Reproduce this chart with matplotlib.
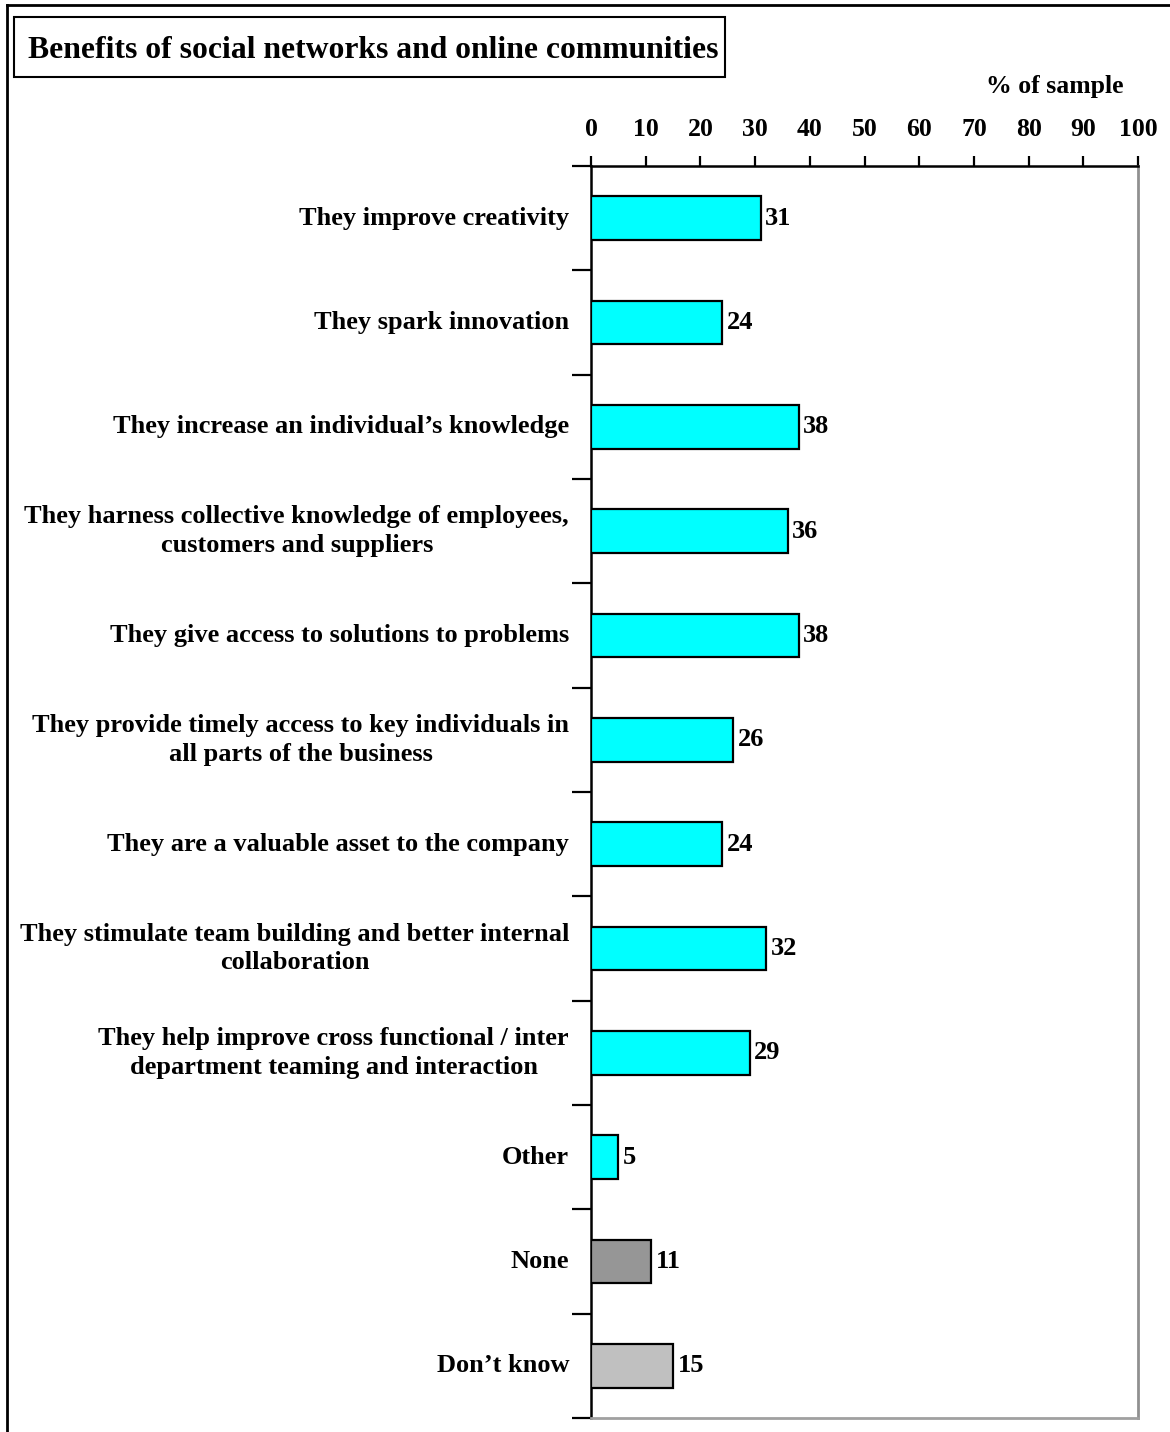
import matplotlib.pyplot as plt
from matplotlib.patches import Rectangle
from matplotlib.lines import Line2D

categories = [
    "They improve creativity",
    "They spark innovation",
    "They increase an individual\u2019s knowledge",
    "They harness collective knowledge of employees,\ncustomers and suppliers",
    "They give access to solutions to problems",
    "They provide timely access to key individuals in\nall parts of the business",
    "They are a valuable asset to the company",
    "They stimulate team building and better internal\ncollaboration",
    "They help improve cross functional / inter\ndepartment teaming and interaction",
    "Other",
    "None",
    "Don\u2019t know",
]
values = [31, 24, 38, 36, 38, 26, 24, 32, 29, 5, 11, 15]
colors = ["#00FFFF"] * 10 + ["#969696", "#C0C0C0"]
x_ticks = list(range(0, 101, 10))

plt.rcParams['font.family'] = ['Liberation Serif', 'DejaVu Serif']
plt.rcParams['font.weight'] = 'bold'

fig = plt.figure(figsize=(11.7, 14.32), dpi=100)
ax = fig.add_axes([591/1170, 1 - 1418/1432, (1138 - 591)/1170, (1418 - 166)/1432])

n = len(categories)
ypos = list(range(n))
ax.barh(ypos, values, height=0.42, color=colors, edgecolor='black', linewidth=1.6, zorder=3)
for y, v in zip(ypos, values):
    ax.text(v + 0.8, y, str(v), va='center', ha='left', fontsize=19, fontweight='bold')

ax.set_xlim(0, 100)
ax.set_ylim(n - 0.5, -0.5)
ax.xaxis.tick_top()
ax.set_xticks(x_ticks)
ax.set_xticklabels([str(t) for t in x_ticks], fontsize=18.5, fontweight='bold')
ax.tick_params(axis='x', direction='out', length=7, width=1.6, pad=11)

# category labels and separator ticks
ax.set_yticks(ypos)
ax.set_yticklabels([])
ax.tick_params(axis='y', which='major', length=0)
ax.set_yticks([i + 0.5 for i in range(-1, n)], minor=True)
ax.tick_params(axis='y', which='minor', direction='out', length=14, width=1.6)
for y, lab in zip(ypos, categories):
    ax.text(-4.0, y, lab, ha='right', va='center', multialignment='center',
            fontsize=19, fontweight='bold', linespacing=1.3)

ax.spines['left'].set_linewidth(1.8)
ax.spines['top'].set_linewidth(1.8)
ax.spines['right'].set_color('#909090')
ax.spines['right'].set_linewidth(2)
ax.spines['bottom'].set_color('#A0A0A0')
ax.spines['bottom'].set_linewidth(2)

fig.text(1124/1170, 1 - 86/1432, "% of sample", ha='right', va='center', fontsize=18.5, fontweight='bold')

# title in box
fig.text(28/1170, 1 - 50/1432, "Benefits of social networks and online communities",
         ha='left', va='center', fontsize=22.8, fontweight='bold')
fig.patches.append(Rectangle((14/1170, 1 - 77/1432), (725 - 14)/1170, 60/1432,
                             transform=fig.transFigure, fill=False, edgecolor='black', linewidth=1.5))

# outer frame
fig.lines.append(Line2D([7/1170, 7/1170], [0, 1 - 5/1432], transform=fig.transFigure, color='black', linewidth=2))
fig.lines.append(Line2D([7/1170, 1], [1 - 5/1432, 1 - 5/1432], transform=fig.transFigure, color='black', linewidth=2))

plt.savefig('out.png', dpi=100)
